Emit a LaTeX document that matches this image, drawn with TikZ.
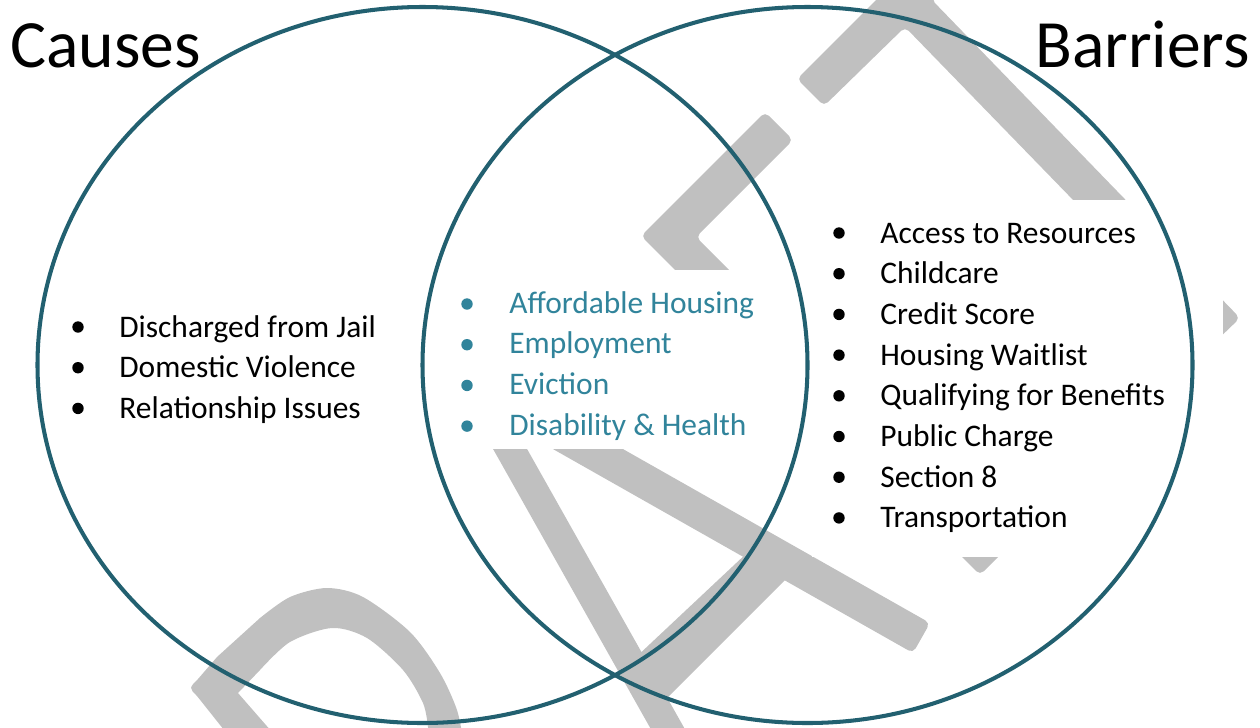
\documentclass[tikz,border=0pt]{standalone}
\usepackage{fontspec}
\setmainfont{Carlito}
\definecolor{ringcol}{HTML}{226070}
\definecolor{midtext}{HTML}{31849B}
\definecolor{wmgray}{HTML}{C0C0C0}

\begin{document}
\begin{tikzpicture}[
    x=0.02cm, y=-0.02cm,
    ring/.style={draw=ringcol, line width=2.3pt},
    wmark/.style={fill=wmgray, rounded corners=3pt},
    cover/.style={fill=white},
    head/.style={font=\fontsize{38.5pt}{46pt}\selectfont, inner sep=0pt},
    item/.style={font=\fontsize{17.9pt}{21pt}\selectfont, inner sep=0pt, anchor=base west},
]
\useasboundingbox (0,0) rectangle (1260,727);

% watermark letters (bowl of R, A, F, T) go under everything
\fill[wmgray] (232,740) -- (197,696) .. controls (189,688) .. (198,679) -- (217,657)
    -- plot[smooth] coordinates {(260,618) (290,597) (327,588) (363,597) (410,632) (440,673) (457,710) (463,740)}
    -- (429,740)
    -- plot[smooth] coordinates {(428,727) (423,703) (403,670) (367,638) (332,628) (290,642) (260,670)}
    -- (238,693) -- (279,740) -- cycle;

% A: legs and crossbar
\fill[wmgray] (488,440) -- (522,440) -- (691,740) -- (657,740) -- cycle;
\fill[wmark] (537,440) -- (607,440) -- (930,623) -- (913,653) -- cycle;
\fill[wmgray] (749,551) -- (634,659) -- (662,703) -- (789,576) -- cycle;

% F: top bar and stem
\fill[wmark] (765,112) -- (641,236) -- (980,575) -- (1007,548) -- (696,237) -- (793,140) -- cycle;

% T: bar and stem
\fill[wmark] (797,79) -- (936,-60) -- (990,-60) -- (931,-1) -- (1240,318) -- (1213,344)
    -- (905,27) -- (824,106) -- cycle;

% white text areas sit on the watermark
\fill[cover] (445,270) rectangle (815,449);
\fill[cover] (812,200) rectangle (1223,557);

% the two sets
\coordinate (lc) at (422.5,365);
\coordinate (rc) at (807.5,365);
\draw[ring] (lc) ellipse [x radius=385, y radius=358];
\draw[ring] (rc) ellipse [x radius=385, y radius=358];

% headings
\node[head, anchor=base west] (causes) at (10,67) {Causes};
\node[head, anchor=base east] (barriers) at (1250,67) {Barriers};

% causes only
\foreach \txt [count=\i] in {Discharged from Jail, Domestic Violence, Relationship Issues} {
  \node[item] (cau\i) at (119,{337+40.7*(\i-1)}) {\txt};
  \fill (cau\i.base west) ++(-41,-10) circle [radius=5.7];
}

% shared
\foreach \txt [count=\i] in {Affordable Housing, Employment, Eviction, Disability \& Health} {
  \node[item, text=midtext] (both\i) at (509,{313+40.7*(\i-1)}) {\txt};
  \fill[midtext] (both\i.base west) ++(-42,-9) circle [radius=5.7];
}

% barriers only
\foreach \txt [count=\i] in {Access to Resources, Childcare, Credit Score, Housing Waitlist,
    Qualifying for Benefits, Public Charge, Section 8, Transportation} {
  \node[item] (bar\i) at (880,{243+40.7*(\i-1)}) {\txt};
  \fill (bar\i.base west) ++(-41,-10) circle [radius=5.7];
}

\end{tikzpicture}
\end{document}
